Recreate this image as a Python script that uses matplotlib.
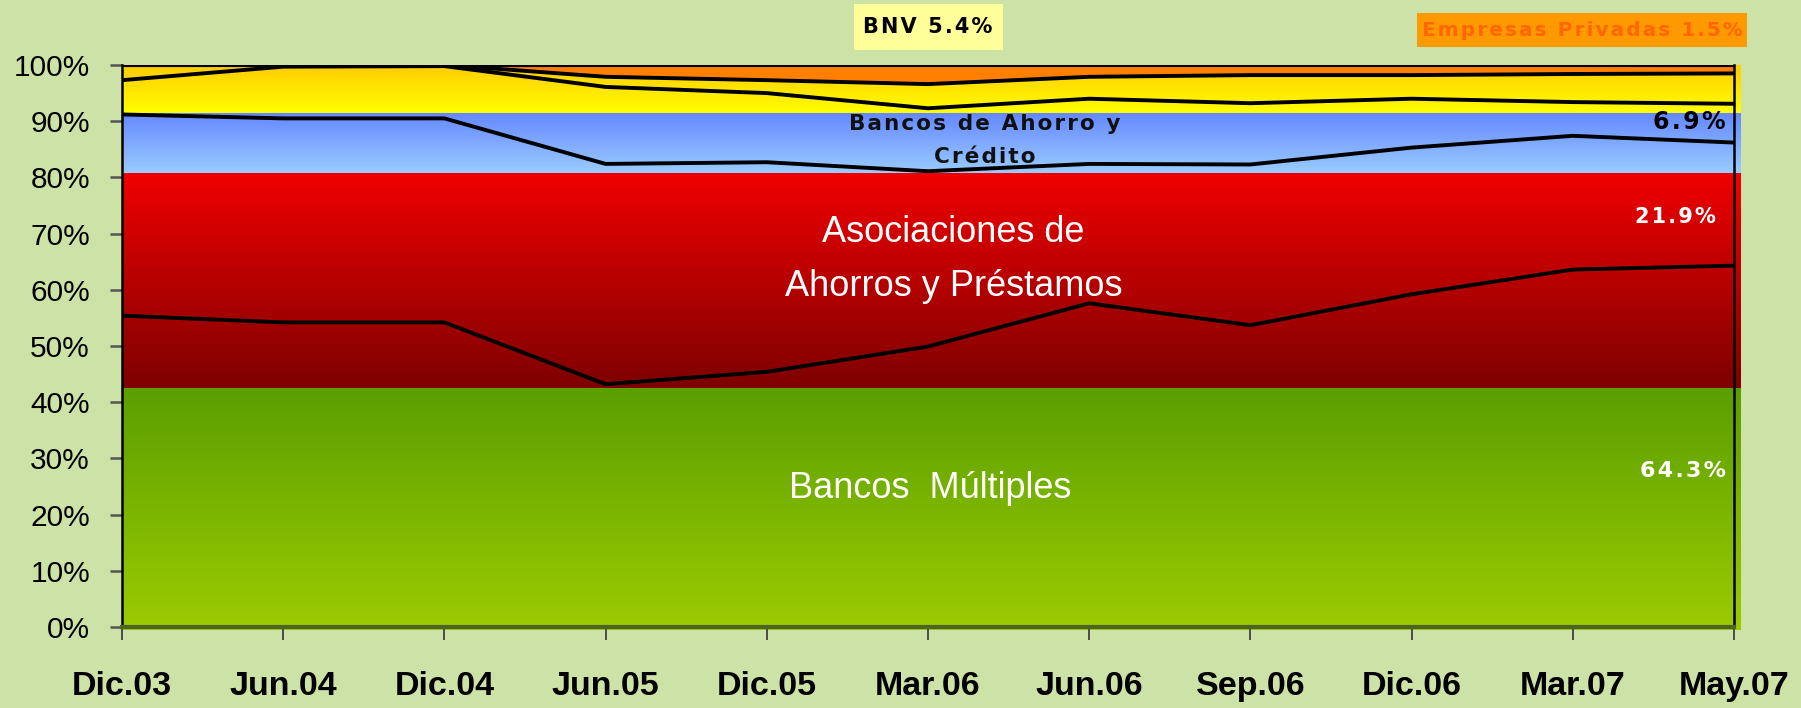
import numpy as np
import matplotlib
matplotlib.use('Agg')
import matplotlib.pyplot as plt
from matplotlib.colors import to_rgb
from matplotlib.patches import Rectangle

plt.rcParams['font.family'] = ['Liberation Sans', 'DejaVu Sans']

# Datos (participacion %, por fecha)
fechas = ['Dic.03', 'Jun.04', 'Dic.04', 'Jun.05', 'Dic.05', 'Mar.06',
          'Jun.06', 'Sep.06', 'Dic.06', 'Mar.07', 'May.07']
bancos_multiples = [55.4, 54.2, 54.2, 43.2, 45.4, 49.9, 57.6, 53.7, 59.2, 63.6, 64.3]
asociaciones = [35.8, 36.3, 36.3, 39.2, 37.3, 31.2, 24.8, 28.6, 26.1, 23.8, 21.9]
bancos_ahorro = [6.1, 9.2, 9.3, 13.7, 12.3, 11.2, 11.6, 10.9, 8.7, 6.0, 6.9]
bnv = [2.7, 0.3, 0.2, 1.8, 2.3, 4.3, 3.9, 5.0, 4.2, 5.0, 5.4]
empresas_privadas = [0.0, 0.0, 0.0, 2.1, 2.7, 3.4, 2.1, 1.8, 1.8, 1.6, 1.5]

# Franjas de fondo (limites en %)
franjas = [(-0.6, 42.6, '#5A9E00', '#9CCC00'),
           (42.6, 80.7, '#F00000', '#7E0000'),
           (80.7, 91.5, '#6487FF', '#9ACCFF'),
           (91.5, 100, '#FFCC00', '#FFFF00')]

fondo = '#CDE2A6'
W, H = 1801, 708

fig = plt.figure(figsize=(W / 100, H / 100), dpi=100, facecolor=fondo)
ax = fig.add_axes([122 / W, 1 - 627 / H, (1734 - 122) / W, (627 - 65) / H])
ax.set_facecolor(fondo)

x = np.arange(len(fechas))

# Franjas con degradado vertical
for y0, y1, c_arriba, c_abajo in franjas:
    t = np.linspace(0, 1, 256)[:, None]
    a = np.array(to_rgb(c_abajo))
    b = np.array(to_rgb(c_arriba))
    img = (a + (b - a) * t)[:, None, :]
    ax.imshow(img, extent=(0, len(fechas) - 1 + 0.04, y0, y1), origin='lower',
              aspect='auto', zorder=0, clip_on=False, interpolation='bilinear')

# Lineas acumuladas
series = [bancos_multiples, asociaciones, bancos_ahorro, bnv]
acum = np.cumsum(np.array(series), axis=0)
total = acum[-1] + np.array(empresas_privadas)
ax.fill_between(x, acum[-1], total, color='#FF7F00', zorder=1, lw=0)
for linea in acum:
    ax.plot(x, linea, color='black', lw=2.8, zorder=3)
ax.plot(x, total, color='black', lw=3, zorder=3)

ax.set_xlim(0, len(fechas) - 1)
ax.set_ylim(0, 100)

for s in ['left', 'right']:
    ax.spines[s].set_color('black')
    ax.spines[s].set_linewidth(1.8)
    ax.spines[s].set_zorder(4)
ax.spines['top'].set_visible(False)
ax.spines['bottom'].set_color('#4F6228')
ax.spines['bottom'].set_linewidth(3)
ax.spines['bottom'].set_zorder(4)

ax.set_xticks(x, fechas)
ax.set_yticks(range(0, 101, 10), ['%d%%' % v for v in range(0, 101, 10)])
ax.tick_params(axis='x', length=9, width=1.2, color='#333333', pad=23,
               labelsize=24.5)
ax.tick_params(axis='y', length=9, width=1.8, color='#555555', pad=14,
               labelsize=21.5)
for lab in ax.get_xticklabels():
    lab.set_fontweight('bold')


# Textos dentro del grafico
def px(xp, yp):
    return xp / W, 1 - yp / H


def espaciar(s):
    return '\u200a'.join(s)


dv = ['DejaVu Sans']

fig.text(*px(953, 232), 'Asociaciones de', color='white', fontsize=26,
         ha='center', va='center')
fig.text(*px(954, 287), 'Ahorros y Préstamos', color='white', fontsize=26,
         ha='center', va='center')
fig.text(*px(930, 489), 'Bancos  Múltiples', color='white', fontsize=26,
         ha='center', va='center')
fig.text(*px(985, 124), espaciar('Bancos de Ahorro y'), color='#111111',
         fontsize=15.5, fontweight='bold', family=dv, ha='center', va='center')
fig.text(*px(985, 157), espaciar('Crédito'), color='#111111', fontsize=15.5,
         fontweight='bold', family=dv, ha='center', va='center')
fig.text(*px(1726, 122), espaciar('6.9%'), color='black', fontsize=17,
         fontweight='bold', family=dv, ha='right', va='center')
fig.text(*px(1716, 217), espaciar('21.9%'), color='white', fontsize=15,
         fontweight='bold', family=dv, ha='right', va='center')
fig.text(*px(1726, 471), espaciar('64.3%'), color='white', fontsize=16,
         fontweight='bold', family=dv, ha='right', va='center')

# Cajas superiores
fig.patches.append(Rectangle(px(854, 50), 149 / W, 46 / H,
                             transform=fig.transFigure, fc='#FFFF99', ec='none'))
fig.text(*px(928, 27), espaciar('BNV 5.4%'), color='black', fontsize=15,
         fontweight='bold', family=dv, ha='center', va='center')
fig.patches.append(Rectangle(px(1417, 47), 330 / W, 34 / H,
                             transform=fig.transFigure, fc='#FF9900', ec='none'))
fig.text(*px(1582, 30), espaciar('Empresas Privadas 1.5%'), color='#FF6600',
         fontsize=14.5, fontweight='bold', family=dv, ha='center', va='center')

fig.savefig('out.png', dpi=100, facecolor=fondo)
